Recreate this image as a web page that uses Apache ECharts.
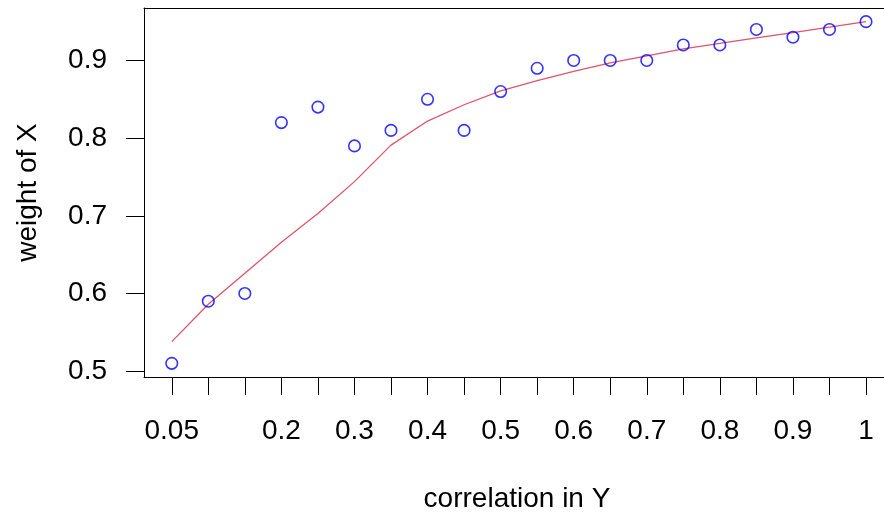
<!DOCTYPE html>
<html>
<head>
<meta charset="utf-8">
<script src="https://cdn.jsdelivr.net/npm/echarts@6/dist/echarts.min.js"></script>
<style>
  html, body { margin: 0; padding: 0; background: #ffffff; }
  #chart { width: 884px; height: 516px; }
</style>
</head>
<body>
<div id="chart"></div>
<script>
// Correlation in Y (x positions of the observations)
const corr = [0.05, 0.1, 0.15, 0.2, 0.25, 0.3, 0.35, 0.4, 0.45, 0.5,
              0.55, 0.6, 0.65, 0.7, 0.75, 0.8, 0.85, 0.9, 0.95, 1];
// Observed weight of X
const weight = [0.51, 0.59, 0.60, 0.82, 0.84, 0.79, 0.81, 0.85, 0.81, 0.86,
                0.89, 0.90, 0.90, 0.90, 0.92, 0.92, 0.94, 0.93, 0.94, 0.95];
// Smoothed fit through the observations
const fitted = [0.538, 0.586, 0.626, 0.666, 0.703, 0.744, 0.791, 0.822, 0.843, 0.861,
                0.874, 0.886, 0.897, 0.906, 0.915, 0.922, 0.929, 0.936, 0.943, 0.950];

// Axis tick positions and labelled values
const xTicks = [0.05, 0.1, 0.15, 0.2, 0.25, 0.3, 0.35, 0.4, 0.45, 0.5,
                0.55, 0.6, 0.65, 0.7, 0.75, 0.8, 0.85, 0.9, 0.95, 1];
const xLabels = [0.05, 0.2, 0.3, 0.4, 0.5, 0.6, 0.7, 0.8, 0.9, 1];
const yTicks = [0.5, 0.6, 0.7, 0.8, 0.9];

const FONT = '"Liberation Sans", Arial, sans-serif';
const chart = echarts.init(document.getElementById('chart'), null, { renderer: 'canvas' });

const fmt = v => String(Math.round(v * 100) / 100);
const X_MIN = 0.012, X_MAX = 1.0246;

chart.setOption({
  animation: false,
  backgroundColor: '#ffffff',
  grid: { left: 144, top: 8, width: 740, height: 369, show: false, outerBoundsMode: 'none', containLabel: false },
  xAxis: [
    {
      type: 'value',
      min: X_MIN, max: X_MAX,
      name: 'correlation in Y',
      nameLocation: 'middle',
      nameGap: 108,
      nameTextStyle: { fontFamily: FONT, fontSize: 28, color: '#000000', padding: [0, 0, 0, 6] },
      axisLine: { show: true, onZero: false, lineStyle: { color: '#000000', width: 1 } },
      axisTick: { show: true, length: 18, customValues: xTicks, lineStyle: { color: '#000000', width: 1 } },
      axisLabel: { show: true, customValues: xLabels, margin: 40, formatter: fmt,
                   fontFamily: FONT, fontSize: 28, color: '#000000' },
      splitLine: { show: false }
    },
    {
      // top edge of the plot box
      type: 'value',
      position: 'top',
      min: X_MIN, max: X_MAX,
      axisLine: { show: true, onZero: false, lineStyle: { color: '#000000', width: 1 } },
      axisTick: { show: false },
      axisLabel: { show: false },
      splitLine: { show: false }
    }
  ],
  yAxis: {
    type: 'value',
    min: 0.4924, max: 0.9676,
    name: 'weight of X',
    nameLocation: 'middle',
    nameGap: 102,
    nameRotate: 90,
    nameTextStyle: { fontFamily: FONT, fontSize: 28, color: '#000000' },
    axisLine: { show: true, onZero: false, lineStyle: { color: '#000000', width: 1 } },
    axisTick: { show: true, length: 18, customValues: yTicks, lineStyle: { color: '#000000', width: 1 } },
    axisLabel: { show: true, customValues: yTicks, margin: 37, formatter: fmt,
                 fontFamily: FONT, fontSize: 28, color: '#000000' },
    splitLine: { show: false }
  },
  series: [
    {
      type: 'line',
      xAxisIndex: 0,
      data: corr.map((c, i) => [c, fitted[i]]),
      showSymbol: false,
      smooth: false,
      lineStyle: { color: '#DF536B', width: 1.3 },
      itemStyle: { color: '#DF536B' },
      z: 2
    },
    {
      type: 'scatter',
      xAxisIndex: 0,
      data: corr.map((c, i) => [c, weight[i]]),
      symbol: 'circle',
      symbolSize: 11.5,
      itemStyle: { color: 'rgba(0,0,0,0)', borderColor: '#0000FF', borderWidth: 1.6 },
      z: 3
    }
  ]
});
</script>
</body>
</html>
